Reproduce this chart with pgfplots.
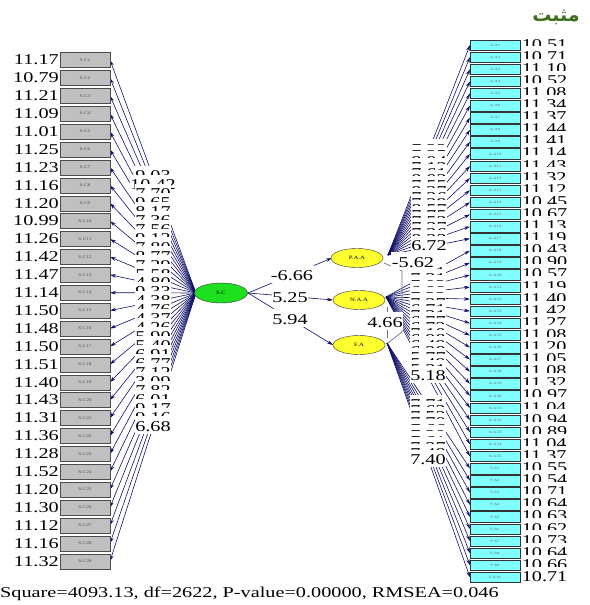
\documentclass[border=0pt]{standalone}
\usepackage{pgfplots}
\pgfplotsset{compat=1.18}
\usepackage{pgfplotstable}
\usetikzlibrary{shapes.geometric,arrows.meta}
\usepackage{fontspec}
\setmainfont{Liberation Serif}[FakeStretch=1.35]
\newfontfamily\arabicfont[Script=Arabic]{DejaVu Sans}
\TeXXeTstate=1

\definecolor{arrowblue}{HTML}{101068}
\definecolor{corrgray}{HTML}{6E6E80}
\definecolor{boxgray}{HTML}{C0C0C0}
\definecolor{boxcyan}{HTML}{80FFFF}
\definecolor{latgreen}{HTML}{1EE01E}
\definecolor{latyellow}{HTML}{FFFF30}
\definecolor{titlegreen}{HTML}{3C6E1E}

% S.C indicators: box row y, error t-value, loading t-value, loading label y
\pgfplotstableread{
name   y      err    load   ly
S.C1   60.0   11.17  9.03   176.5
S.C2   77.9   10.79  10.42  185.5
S.C3   95.8   11.21  7.70   194.4
S.C4   113.7  11.09  9.65   203.4
S.C5   131.6  11.01  8.17   212.3
S.C6   149.5  11.25  7.36   221.3
S.C7   167.4  11.23  7.56   230.2
S.C8   185.3  11.16  9.13   239.2
S.C9   203.2  11.20  7.80   248.1
S.C10  221.1  10.99  8.77   257.1
S.C11  239.0  11.26  7.29   266.0
S.C12  256.9  11.42  5.58   275.0
S.C13  274.8  11.47  4.80   283.9
S.C14  292.7  11.14  9.33   292.9
S.C15  310.6  11.50  4.38   301.8
S.C16  328.5  11.48  4.76   310.8
S.C17  346.4  11.50  4.37   319.7
S.C18  364.3  11.51  4.26   328.7
S.C19  382.2  11.40  5.90   337.6
S.C20  400.1  11.43  5.40   346.6
S.C21  418.0  11.31  6.91   355.5
S.C22  435.9  11.36  6.77   364.5
S.C23  453.8  11.28  7.12   373.4
S.C24  471.7  11.52  3.09   382.4
S.C25  489.6  11.20  7.82   391.3
S.C26  507.5  11.30  6.01   400.3
S.C27  525.4  11.12  9.17   409.2
S.C28  543.3  11.16  9.16   418.2
S.C29  561.2  11.32  6.68   427.1
}\scdata

\pgfplotstableread{
name   y      err    load   ly
A.A1   45.0   10.51  7.22   150.0
A.A2   57.1   10.71  7.35   156.1
A.A3   69.2   11.10  8.04   162.1
A.A4   81.3   10.52  7.12   168.2
A.A5   93.4   11.08  7.61   174.2
A.A6   105.5  11.34  8.02   180.3
A.A7   117.6  11.37  7.55   186.3
A.A8   129.7  11.44  8.27   192.4
A.A9   141.8  11.41  7.36   198.4
A.A10  153.9  11.14  7.29   204.5
A.A11  166.0  11.43  8.57   210.5
A.A12  178.1  11.32  7.75   216.6
A.A13  190.2  11.12  7.52   222.6
A.A14  202.3  10.45  7.37   228.7
A.A15  214.4  10.67  7.26   234.7
A.A16  226.5  11.13  8.33   240.8
A.A17  238.6  11.19  6.72   246.8
}\paadata

\pgfplotstableread{
name   y      err    load   ly
A.A18  250.7  10.43  7.21   273.9
A.A19  262.8  10.90  7.31   279.9
A.A20  274.9  10.57  7.03   286.0
A.A21  287.0  11.19  6.88   292.0
A.A22  299.1  11.40  7.22   298.1
A.A23  311.2  11.42  7.27   304.1
A.A24  323.3  11.27  6.71   310.2
A.A25  335.4  11.08  7.21   316.2
A.A26  347.5  11.20  6.77   322.3
A.A27  359.6  11.05  6.72   328.3
A.A28  371.7  11.08  7.10   334.4
A.A29  383.8  11.32  6.98   340.4
A.A30  395.9  10.97  6.49   346.5
A.A31  408.0  11.04  6.28   352.5
A.A32  420.1  10.94  5.77   358.6
A.A33  432.2  10.89  5.49   364.6
A.A34  444.3  11.04  5.31   370.7
A.A35  456.4  11.37  5.18   376.7
}\naadata

\pgfplotstableread{
name   y      err    load   ly
F.A1   468.5  10.55  7.71   405.8
F.A2   480.6  10.54  7.62   411.8
F.A3   492.7  10.71  7.52   417.9
F.A4   504.8  10.64  7.70   423.9
F.A5   516.9  10.63  7.66   430.0
F.A6   529.0  10.62  7.29   436.0
F.A7   541.1  10.73  7.61   442.1
F.A8   553.2  10.64  7.37   448.1
F.A9   565.3  10.66  7.48   454.2
F.A10  577.4  10.71  7.40   460.2
}\fadata

% latent variables: centre and name
\pgfplotstableread{
x    y     name
221  293   S.C
}\scnode
\pgfplotstableread{
x    y     name
357  258   P.A.A
359  300   N.A.A
359  345   F.A
}\latnodes

% structural paths S.C -> latent: start, end, t-value, label position
\pgfplotstableread{
x    y    tx   ty   t      lx   ly
248  293  332  258  -6.66  292  276
248  293  333  300  5.25   290  298
248  293  333  345  5.94   290  320
}\paths

\pgfplotstableread{
x    y    t
413  263  -5.62
385  323  4.66
}\corrlabels

\tikzset{
  num/.style={font=\fontsize{15}{15}\selectfont, inner sep=0pt},
  cut/.style={num, fill=white, text height=14pt, text depth=2pt,
    inner xsep=0.6pt, inner ysep=0.7pt, anchor=base, yshift=-4pt},
  arr/.style={arrowblue, line width=0.6pt, mark=none,
    -{Stealth[length=6pt,width=3.5pt]}},
  cyanbox/.style={anchor=center, draw=black!80, fill=boxcyan,
    minimum width=50pt, minimum height=10.5pt, inner sep=0pt,
    text=black!60, font=\fontsize{3.5}{3.5}\selectfont},
}
\pgfplotsset{
  lbl/.style={draw=none, mark=none, nodes near coords,
    point meta=explicit symbolic},
}

\begin{document}
\begin{tikzpicture}
\begin{axis}[
  width=589pt, height=605pt, scale only axis,
  xmin=0, xmax=589, ymin=0, ymax=605, y dir=reverse,
  ticks=none, axis line style={draw=none}, clip=false,
]
% loadings S.C -> indicators
\addplot[arr, quiver={u=110-196, v=\thisrow{y}-293}]
  table[x expr=196, y expr=293] \scdata;
\addplot[arr, quiver={u=470-388, v=\thisrow{y}-255}]
  table[x expr=388, y expr=255] \paadata;
\addplot[arr, quiver={u=470-386, v=\thisrow{y}-297}]
  table[x expr=386, y expr=297] \naadata;
\addplot[arr, quiver={u=470-387, v=\thisrow{y}-343}]
  table[x expr=387, y expr=343] \fadata;
% structural paths
\addplot[arr, quiver={u=\thisrow{tx}-\thisrow{x}, v=\thisrow{ty}-\thisrow{y}}]
  table \paths;
% covariances between latent variables
\addplot[corrgray, line width=0.7pt, mark=none]
  coordinates {(384,263) (402,271) (402,332) (388,343)};
\addplot[corrgray, line width=0.7pt, mark=none]
  coordinates {(387,307) (387,338)};

% indicator boxes
\addplot[lbl, every node near coord/.append style={anchor=center,
    draw=black!70, fill=boxgray, minimum width=50pt, minimum height=15pt,
    inner sep=0pt, text=black!70, font=\fontsize{4}{4}\selectfont}]
  table[x expr=85, y=y, meta=name] \scdata;
\addplot[lbl, every node near coord/.append style={cyanbox}]
  table[x expr=495, y=y, meta=name] \paadata;
\addplot[lbl, every node near coord/.append style={cyanbox}]
  table[x expr=495, y=y, meta=name] \naadata;
\addplot[lbl, every node near coord/.append style={cyanbox}]
  table[x expr=495, y=y, meta=name] \fadata;
% latent ellipses
\addplot[lbl, every node near coord/.append style={anchor=center,
    ellipse, draw=black!80, fill=latgreen, minimum width=53pt,
    minimum height=20pt, inner sep=0pt, font=\fontsize{5}{5}\selectfont}]
  table[x=x, y=y, meta=name] \scnode;
\addplot[lbl, every node near coord/.append style={anchor=center,
    ellipse, draw=black!80, fill=latyellow, minimum width=52pt,
    minimum height=19pt, inner sep=0pt, font=\fontsize{5}{5}\selectfont}]
  table[x=x, y=y, meta=name] \latnodes;

% error t-values
\addplot[lbl, every node near coord/.append style={num, anchor=east}]
  table[x expr=59, y=y, meta=err] \scdata;
\addplot[lbl, every node near coord/.append style={cut, anchor=base west}]
  table[x expr=521, y=y, meta=err] \paadata;
\addplot[lbl, every node near coord/.append style={cut, anchor=base west}]
  table[x expr=521, y=y, meta=err] \naadata;
\addplot[lbl, every node near coord/.append style={cut, anchor=base west}]
  table[x expr=521, y=y, meta=err] \fadata;
% loading t-values on the paths
\addplot[lbl, every node near coord/.append style={cut}]
  table[x expr=153, y=ly, meta=load] \scdata;
\addplot[lbl, every node near coord/.append style={cut}]
  table[x expr=429, y=ly, meta=load] \paadata;
\addplot[lbl, every node near coord/.append style={cut}]
  table[x expr=428, y=ly, meta=load] \naadata;
\addplot[lbl, every node near coord/.append style={cut}]
  table[x expr=428, y=ly, meta=load] \fadata;
\addplot[lbl, every node near coord/.append style={cut}]
  table[x=lx, y=ly, meta=t] \paths;
\addplot[lbl, every node near coord/.append style={cut}]
  table[x=x, y=y, meta=t] \corrlabels;

\node[text=titlegreen, inner sep=0pt,
  font=\arabicfont\bfseries\fontsize{19}{19}\selectfont]
  at (axis cs:556,17) {\beginR مثبت\endR};
\node[num, anchor=base west]
  at (axis cs:0,597) {Square=4093.13, df=2622, P-value=0.00000, RMSEA=0.046};
\end{axis}
\end{tikzpicture}
\end{document}
